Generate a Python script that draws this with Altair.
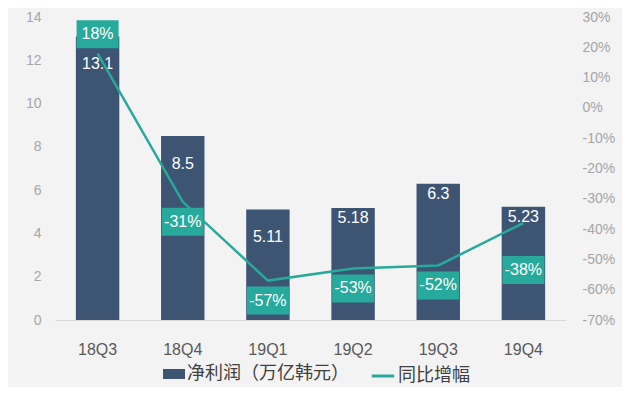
import altair as alt
import pandas as pd

quarters = ["18Q3", "18Q4", "19Q1", "19Q2", "19Q3", "19Q4"]
profit = [13.1, 8.5, 5.11, 5.18, 6.3, 5.23]
growth = [0.18, -0.31, -0.57, -0.53, -0.52, -0.38]
left_ticks = [0, 2, 4, 6, 8, 10, 12, 14]
right_ticks = [-0.7, -0.6, -0.5, -0.4, -0.3, -0.2, -0.1, 0.0, 0.1, 0.2, 0.3]
bar_name = "净利润（万亿韩元）"
line_name = "同比增幅"

df = pd.DataFrame({
    "q": quarters,
    "profit": profit,
    "plabel": [str(v) for v in profit],
    "growth": growth,
    "glabel": [f"{round(v*100):d}%" for v in growth],
})

NAVY = "#3d5573"
TEAL = "#27a99b"
FONT = "Liberation Sans"
CJK = "Noto Sans CJK SC"

x = alt.X("q:N", sort=quarters, title=None,
          scale=alt.Scale(paddingInner=0.49, paddingOuter=0.245),
          axis=alt.Axis(labelAngle=0, labelFontSize=16, labelColor="#595959",
                        labelPadding=21, ticks=False, domainColor="#d9d9d9",
                        domainWidth=1, labelFont=FONT))

yl = alt.Y("profit:Q", title=None,
           scale=alt.Scale(domain=[0, 14], nice=False),
           axis=alt.Axis(values=left_ticks, grid=False, ticks=False, domain=False,
                         labelFontSize=14, labelColor="#a6a6a6", labelPadding=14,
                         labelFont=FONT))

yr = alt.Y("growth:Q", title=None,
           scale=alt.Scale(domain=[-0.7, 0.3], nice=False),
           axis=alt.Axis(orient="right", values=right_ticks, grid=False,
                         labelExpr="replace(format(datum.value, '.0%'), '\u2212', '-')",
                         ticks=False, domain=False, labelFontSize=14,
                         labelColor="#a6a6a6", labelPadding=16, labelFont=FONT))

base = alt.Chart(df)

bars = base.mark_bar(color=NAVY).encode(
    x=x, y=yl,
    fill=alt.Fill("series:N", scale=alt.Scale(domain=[bar_name], range=[NAVY]),
                  legend=alt.Legend(title=None, orient="none", legendX=108, legendY=346,
                                    symbolType="M-1.1,-0.5H1.1V0.5H-1.1Z",
                                    symbolSize=400, symbolOffset=0, padding=0,
                                    labelOffset=2, labelFontSize=18, labelLimit=400,
                                    labelColor="#404040", labelFont=CJK)),
).transform_calculate(series=f"'{bar_name}'")

def bar_text(qs, dy):
    return base.transform_filter(
        alt.FieldOneOfPredicate(field="q", oneOf=qs)
    ).mark_text(color="white", fontSize=16, font=FONT, baseline="middle",
                yOffset=dy).encode(x=x, y=yl, text="plabel:N")

btext1 = bar_text(quarters[:3], 28)
btext2 = bar_text(quarters[3:], 10)

line = base.mark_line(strokeWidth=2.5).encode(
    x=x, y=yr,
    stroke=alt.Stroke("series:N", scale=alt.Scale(domain=[line_name], range=[TEAL]),
                      legend=alt.Legend(title=None, orient="none", legendX=315, legendY=346,
                                        symbolType="stroke", symbolSize=500,
                                        symbolStrokeWidth=3, symbolOffset=0, padding=0,
                                        labelOffset=2, labelFontSize=18, labelLimit=400,
                                        labelColor="#404040", labelFont=CJK)),
).transform_calculate(series=f"'{line_name}'")

BOX = "M-1.5,-1H1.5V1H-1.5Z"

def gbox(qs, dy):
    f = base.transform_filter(alt.FieldOneOfPredicate(field="q", oneOf=qs))
    box = f.mark_point(shape=BOX, size=784, filled=True, fill=TEAL, opacity=1,
                       strokeWidth=0, yOffset=dy).encode(x=x, y=yr)
    txt = f.mark_text(color="white", fontSize=16, font=FONT, baseline="middle",
                      yOffset=dy).encode(x=x, y=yr, text="glabel:N")
    return [box, txt]

boxes = gbox(["18Q3"], -19) + gbox(["18Q4", "19Q1", "19Q2", "19Q3"], 20) + gbox(["19Q4"], 47)

left = alt.layer(bars, btext1, btext2)
right = alt.layer(line, *boxes)

chart = alt.layer(left, right).resolve_scale(
    y="independent", fill="independent", stroke="independent"
).properties(
    width=511, height=303,
    autosize=alt.AutoSizeParams(type="none"),
    padding={"left": 47, "top": 9, "right": 56, "bottom": 67},
    background="#f3f3f3",
).configure_view(stroke=None)

chart.save("out.html", embed_options={"renderer": "svg", "actions": False})
